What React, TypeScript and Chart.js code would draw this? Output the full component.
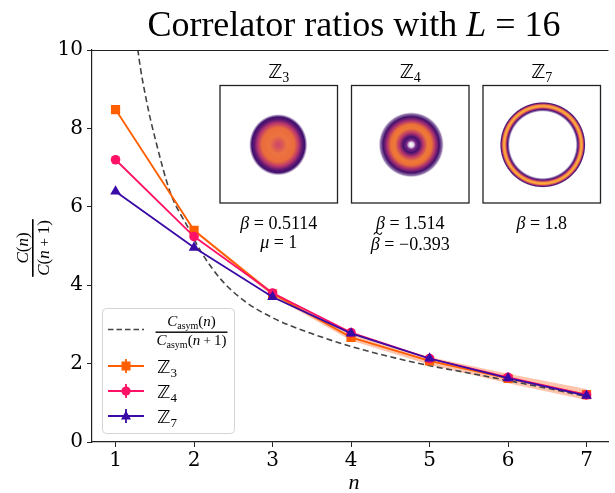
import React, { useEffect, useRef } from "react";
import { Chart, registerables } from "chart.js";
Chart.register(...registerables);

// ---------- data ----------
const nValues = [1, 2, 3, 4, 5, 6, 7];
const z3Ratios = [8.48, 5.4, 3.78, 2.67, 2.07, 1.62, 1.21];
const z3Errors = [0.02, 0.03, 0.06, 0.08, 0.1, 0.12, 0.14];
const z4Ratios = [7.2, 5.24, 3.8, 2.79, 2.13, 1.65, 1.2];
const z7Ratios = [6.39, 4.96, 3.7, 2.77, 2.13, 1.63, 1.18];
const asymN = [1.26, 1.29, 1.4, 1.51, 1.7, 1.93, 2.09, 2.35, 2.64, 3.0, 3.48, 3.98, 4.57, 4.99, 5.5, 5.99, 6.5, 7.0];
const asymRatios = [10.5, 9.92, 8.65, 7.7, 6.35, 5.45, 4.85, 4.13, 3.6, 3.17, 2.78, 2.45, 2.14, 1.95, 1.76, 1.57, 1.37, 1.16];
const yTicks = [0, 2, 4, 6, 8, 10];
const insetGroups = ["3", "4", "7"];
const insetLines = [
  ["β = 0.5114", "μ = 1"],
  ["β = 1.514", "~β = −0.393"],
  ["β = 1.8"],
];

const C_Z3 = "#ff5f00";
const C_Z4 = "#ff1166";
const C_Z7 = "#3a0aa6";

type Piece = { t: string; f: string; dy?: number };
const SERIF = '"Liberation Serif"';
const it = (s: number) => `italic ${s}px ${SERIF}`;
const rm = (s: number) => `${s}px ${SERIF}`;

function piecesWidth(ctx: CanvasRenderingContext2D, ps: Piece[]) {
  let w = 0;
  for (const p of ps) {
    ctx.font = p.f;
    w += ctx.measureText(p.t).width;
  }
  return w;
}
function drawPieces(ctx: CanvasRenderingContext2D, ps: Piece[], x: number, y: number, align: "left" | "center") {
  const w = piecesWidth(ctx, ps);
  let cx = align === "center" ? x - w / 2 : x;
  ctx.textAlign = "left";
  ctx.textBaseline = "alphabetic";
  const pos: number[] = [];
  for (const p of ps) {
    ctx.font = p.f;
    pos.push(cx);
    ctx.fillText(p.t, cx, y + (p.dy || 0));
    cx += ctx.measureText(p.t).width;
  }
  return pos;
}

function mathLine(ctx: CanvasRenderingContext2D, s: string, x: number, y: number, size: number) {
  const [lhs0, rhs] = s.split(" = ");
  const tilde = lhs0.startsWith("~");
  const sym = lhs0.replace("~", "");
  const ps: Piece[] = [
    { t: sym, f: it(size) },
    { t: " = ", f: rm(size) },
    { t: rhs, f: rm(size) },
  ];
  const pos = drawPieces(ctx, ps, x, y, "center");
  if (tilde) {
    ctx.font = it(size);
    const bw = ctx.measureText(sym).width;
    const tx = pos[0] + bw / 2 + 2.5;
    const ty = y - size * 0.92;
    ctx.save();
    ctx.strokeStyle = "#000";
    ctx.lineWidth = 1.1;
    ctx.beginPath();
    ctx.moveTo(tx - 4, ty + 1);
    ctx.bezierCurveTo(tx - 2.5, ty - 2, tx - 1, ty - 1, tx, ty);
    ctx.bezierCurveTo(tx + 1, ty + 1, tx + 2.5, ty + 2, tx + 4, ty - 1);
    ctx.stroke();
    ctx.restore();
  }
}

function zSym(ctx: CanvasRenderingContext2D, sub: string, x: number, y: number, size: number, align: "left" | "center") {
  const ps: Piece[] = [
    { t: "ℤ", f: `${size}px "DejaVu Sans"` },
    { t: sub, f: rm(Math.round(size * 0.72)), dy: size * 0.22 },
  ];
  drawPieces(ctx, ps, x, y, align);
}

function drawBlob(ctx: CanvasRenderingContext2D, cx: number, cy: number, r: number, stops: [number, string][], sx = 1, sy = 1) {
  ctx.save();
  ctx.translate(cx, cy);
  ctx.scale(sx, sy);
  const g = ctx.createRadialGradient(0, 0, 0, 0, 0, r);
  for (const [o, c] of stops) g.addColorStop(o, c);
  ctx.fillStyle = g;
  ctx.beginPath();
  ctx.arc(0, 0, r, 0, Math.PI * 2);
  ctx.fill();
  ctx.restore();
}

const overlayPlugin = {
  id: "overlay",
  afterDraw(chart: any) {
    const ctx: CanvasRenderingContext2D = chart.ctx;
    const a = chart.chartArea;
    ctx.save();
    // top spine
    ctx.strokeStyle = "#222";
    ctx.lineWidth = 1.2;
    ctx.beginPath();
    ctx.moveTo(a.left, a.top + 0.5);
    ctx.lineTo(a.right, a.top + 0.5);
    ctx.stroke();

    ctx.fillStyle = "#000";
    // title
    drawPieces(
      ctx,
      [
        { t: "Correlator ratios with ", f: rm(36) },
        { t: "L", f: it(36) },
        { t: " = ", f: rm(36) },
        { t: "16", f: rm(36) },
      ],
      354,
      36,
      "center"
    );
    // x label
    ctx.font = it(22);
    ctx.textAlign = "center";
    ctx.fillText("n", 354, 489);

    // y label (rotated fraction)
    ctx.save();
    ctx.translate(33, 248);
    ctx.rotate(-Math.PI / 2);
    const num: Piece[] = [
      { t: "C", f: it(17) },
      { t: "(", f: rm(17) },
      { t: "n", f: it(17) },
      { t: ")", f: rm(17) },
    ];
    const den: Piece[] = [
      { t: "C", f: it(17) },
      { t: "(", f: rm(17) },
      { t: "n", f: it(17) },
      { t: " + ", f: rm(15) },
      { t: "1", f: rm(17) },
      { t: ")", f: rm(17) },
    ];
    drawPieces(ctx, num, 0, -5, "center");
    const dw = piecesWidth(ctx, den);
    ctx.fillRect(-dw / 2 - 1, -1, dw + 2, 1.6);
    drawPieces(ctx, den, 0, 16, "center");
    ctx.restore();

    // insets
    const boxes = [220, 351.5, 483];
    const bw = 117.5;
    const top = 85.5;
    boxes.forEach((bx, i) => {
      ctx.save();
      ctx.fillStyle = "#fff";
      ctx.fillRect(bx, top, bw, bw);
      ctx.beginPath();
      ctx.rect(bx, top, bw, bw);
      ctx.clip();
      const cx = bx + bw / 2;
      const cy = top + bw / 2 + 0.5;
      if (i === 0) {
        drawBlob(ctx, cx - 0.5, cy, 31, [
          [0, "#c9476c"],
          [0.12, "#d9545a"],
          [0.3, "#ec7440"],
          [0.55, "#ea6c3c"],
          [0.7, "#b8366e"],
          [0.82, "#5a1673"],
          [0.9, "#3f106c"],
          [0.96, "rgba(80,30,120,0.35)"],
          [1, "rgba(255,255,255,0)"],
        ], 0.95, 1.0);
      } else if (i === 1) {
        drawBlob(ctx, cx + 1, cy, 33, [
          [0, "#ffffff"],
          [0.07, "#e8dcea"],
          [0.14, "#7a2a88"],
          [0.24, "#44106e"],
          [0.36, "#b8356c"],
          [0.5, "#ef7a36"],
          [0.62, "#ec7038"],
          [0.74, "#a62d72"],
          [0.85, "#42106c"],
          [0.94, "rgba(70,20,110,0.55)"],
          [1, "rgba(255,255,255,0)"],
        ]);
      } else {
        drawBlob(ctx, cx + 1, cy, 43, [
          [0, "rgba(255,255,255,0)"],
          [0.76, "rgba(255,255,255,0)"],
          [0.79, "rgba(70,20,120,0.5)"],
          [0.82, "#4a1270"],
          [0.85, "#c8406a"],
          [0.875, "#f5953a"],
          [0.9, "#fbb040"],
          [0.925, "#f08a38"],
          [0.95, "#b23470"],
          [0.97, "#431070"],
          [0.99, "rgba(60,15,110,0.3)"],
          [1, "rgba(255,255,255,0)"],
        ]);
      }
      ctx.restore();
      ctx.strokeStyle = "#222";
      ctx.lineWidth = 1.3;
      ctx.strokeRect(bx, top, bw, bw);
      ctx.fillStyle = "#000";
      zSym(ctx, insetGroups[i], bx + bw / 2, 78, 19, "center");
      insetLines[i].forEach((s, j) => {
        mathLine(ctx, s, bx + bw / 2, j === 0 ? 229 : 248 + (i === 1 ? 2 : 0), 18);
      });
    });

    // legend
    const lx = 102, ly = 308, lw = 132, lh = 125;
    ctx.save();
    ctx.fillStyle = "rgba(255,255,255,0.85)";
    ctx.strokeStyle = "#d4d4d4";
    ctx.lineWidth = 1;
    ctx.beginPath();
    (ctx as any).roundRect(lx + 0.5, ly + 0.5, lw, lh, 4);
    ctx.fill();
    ctx.stroke();
    ctx.restore();
    // dashed entry
    ctx.save();
    ctx.strokeStyle = "#444";
    ctx.lineWidth = 1.6;
    ctx.setLineDash([5.5, 3]);
    ctx.beginPath();
    ctx.moveTo(108, 329.5);
    ctx.lineTo(144, 329.5);
    ctx.stroke();
    ctx.restore();
    ctx.fillStyle = "#000";
    const lnum: Piece[] = [
      { t: "C", f: it(15) },
      { t: "asym", f: rm(10), dy: 3 },
      { t: "(", f: rm(15) },
      { t: "n", f: it(15) },
      { t: ")", f: rm(15) },
    ];
    const lden: Piece[] = [
      { t: "C", f: it(15) },
      { t: "asym", f: rm(10), dy: 3 },
      { t: "(", f: rm(15) },
      { t: "n", f: it(15) },
      { t: " + ", f: rm(13) },
      { t: "1", f: rm(15) },
      { t: ")", f: rm(15) },
    ];
    drawPieces(ctx, lnum, 191.5, 326, "center");
    const ldw = piecesWidth(ctx, lden);
    ctx.fillRect(191.5 - ldw / 2 - 1, 331.5, ldw + 2, 1.4);
    drawPieces(ctx, lden, 191.5, 345, "center");

    const rows = [
      { c: C_Z3, y: 366, s: "rect", sub: "3" },
      { c: C_Z4, y: 391, s: "circle", sub: "4" },
      { c: C_Z7, y: 416, s: "triangle", sub: "7" },
    ];
    rows.forEach((r) => {
      ctx.save();
      ctx.strokeStyle = r.c;
      ctx.fillStyle = r.c;
      ctx.lineWidth = 1.8;
      ctx.beginPath();
      ctx.moveTo(108, r.y);
      ctx.lineTo(144, r.y);
      ctx.moveTo(126, r.y - 7);
      ctx.lineTo(126, r.y + 7);
      ctx.stroke();
      ctx.beginPath();
      if (r.s === "rect") ctx.rect(121.5, r.y - 4.5, 9, 9);
      else if (r.s === "circle") ctx.arc(126, r.y, 4.6, 0, Math.PI * 2);
      else {
        ctx.moveTo(126, r.y - 5.5);
        ctx.lineTo(131, r.y + 3.5);
        ctx.lineTo(121, r.y + 3.5);
        ctx.closePath();
      }
      ctx.fill();
      ctx.restore();
      ctx.fillStyle = "#000";
      zSym(ctx, r.sub, 157, r.y + 7, 18, "left");
    });
    ctx.restore();
  },
};

export default function App() {
  const ref = useRef<HTMLCanvasElement | null>(null);
  useEffect(() => {
    document.body.style.margin = "0";
    const canvas = ref.current!;
    const pts = (ys: number[]) => nValues.map((x, i) => ({ x, y: ys[i] }));
    const chart = new Chart(canvas, {
      type: "line",
      data: {
        datasets: [
          {
            data: nValues.map((x, i) => ({ x, y: z3Ratios[i] + z3Errors[i] })),
            borderWidth: 0,
            pointRadius: 0,
            fill: "+1",
            backgroundColor: "rgba(255,140,90,0.5)",
            borderColor: "rgba(0,0,0,0)",
            order: 6,
          } as any,
          {
            data: nValues.map((x, i) => ({ x, y: z3Ratios[i] - z3Errors[i] })),
            borderWidth: 0,
            pointRadius: 0,
            fill: false,
            borderColor: "rgba(0,0,0,0)",
            order: 5,
          },
          {
            data: asymN.map((x, i) => ({ x, y: asymRatios[i] })),
            borderColor: "#444",
            borderWidth: 1.6,
            borderDash: [6, 3.5],
            pointRadius: 0,
            cubicInterpolationMode: "monotone",
            order: 4,
          },
          {
            data: pts(z3Ratios),
            borderColor: C_Z3,
            backgroundColor: C_Z3,
            borderWidth: 1.8,
            pointStyle: "rect",
            pointRadius: 6.5,
            pointBorderWidth: 0,
            order: 3,
          },
          {
            data: pts(z4Ratios),
            borderColor: C_Z4,
            backgroundColor: C_Z4,
            borderWidth: 1.8,
            pointStyle: "circle",
            pointRadius: 4.8,
            pointBorderWidth: 0,
            order: 2,
          },
          {
            data: pts(z7Ratios),
            borderColor: C_Z7,
            backgroundColor: C_Z7,
            borderWidth: 1.8,
            pointStyle: "triangle",
            pointRadius: 6.2,
            pointBorderWidth: 0,
            order: 1,
          },
        ],
      },
      options: {
        animation: false,
        responsive: false,
        maintainAspectRatio: false,
        events: [],
        layout: { padding: { top: 50, left: 0, right: 0, bottom: 0 } },
        plugins: { legend: { display: false }, tooltip: { enabled: false }, title: { display: false } },
        elements: { line: { tension: 0 } },
        scales: {
          x: {
            type: "linear",
            min: 0.7,
            max: 7.28,
            afterBuildTicks: (ax: any) => {
              ax.ticks = nValues.map((v) => ({ value: v }));
            },
            afterFit: (ax: any) => {
              ax.height = 51;
            },
            grid: { drawOnChartArea: false, drawTicks: true, tickLength: 5, color: "#222", lineWidth: 1 },
            border: { display: true, color: "#222", width: 1.2 },
            ticks: {
              font: { family: "DejaVu Serif", size: 20 },
              color: "#000",
              padding: 2,
              maxRotation: 0,
              autoSkip: false,
            },
          },
          y: {
            type: "linear",
            min: 0,
            max: 10,
            afterBuildTicks: (ax: any) => {
              ax.ticks = yTicks.map((v) => ({ value: v }));
            },
            afterFit: (ax: any) => {
              ax.width = 92;
            },
            grid: { drawOnChartArea: false, drawTicks: true, tickLength: 5, color: "#222", lineWidth: 1 },
            border: { display: true, color: "#222", width: 1.2 },
            ticks: {
              font: { family: "DejaVu Serif", size: 20 },
              color: "#000",
              padding: 4,
            },
          },
        },
      },
      plugins: [overlayPlugin],
    });
    return () => chart.destroy();
  }, []);
  return (
    <div style={{ width: 615, height: 493 }}>
      <canvas ref={ref} width={615} height={493} style={{ width: 615, height: 493, display: "block" }} />
    </div>
  );
}
